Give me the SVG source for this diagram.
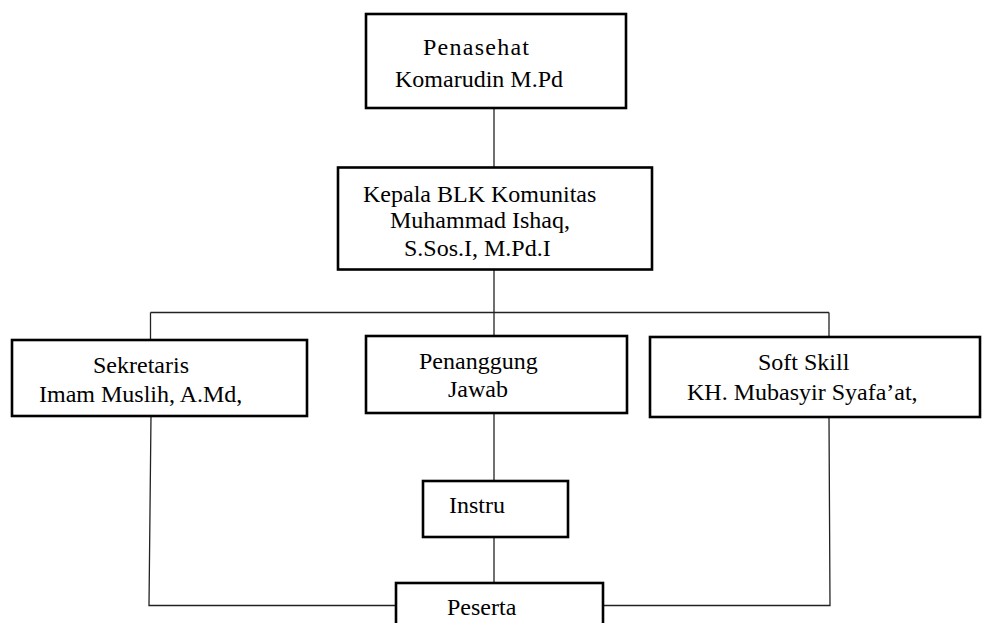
<svg xmlns="http://www.w3.org/2000/svg" width="982" height="623" viewBox="0 0 982 623">
<style>
.box{fill:#fff;stroke:#000;stroke-width:2.6}
.t{font-family:"Liberation Serif","Times New Roman",serif;font-size:24px;fill:#000}
.c{fill:none;stroke:#222;stroke-width:1.3}
</style>
<rect width="982" height="623" fill="#fff"/>
<g id="connectors">
<line class="c" x1="494" y1="108" x2="494" y2="167.5"/>
<line class="c" x1="494" y1="269.5" x2="494" y2="312.5"/>
<line class="c" x1="150.5" y1="312.5" x2="829" y2="312.5"/>
<line class="c" x1="150.5" y1="312.5" x2="150.5" y2="340"/>
<line class="c" x1="494" y1="312.5" x2="494" y2="336"/>
<line class="c" x1="829" y1="312.5" x2="829" y2="337"/>
<line class="c" x1="494" y1="413" x2="494" y2="481"/>
<line class="c" x1="494" y1="537" x2="494" y2="583"/>
<polyline class="c" points="151,416 149,605.5 396,605.5"/>
<polyline class="c" points="829,417 830,605.5 603,605.5"/>
</g>
<g id="penasehat">
<rect class="box" x="366" y="14" width="260" height="94"/>
<text class="t" x="423" y="55" font-size="25" textLength="106" lengthAdjust="spacing">Penasehat</text>
<text class="t" x="395" y="87">Komarudin M.Pd</text>
</g>
<g id="kepala">
<rect class="box" x="338" y="167.5" width="314" height="102"/>
<text class="t" x="363" y="202">Kepala BLK Komunitas</text>
<text class="t" x="390" y="228">Muhammad Ishaq,</text>
<text class="t" x="404" y="256">S.Sos.I, M.Pd.I</text>
</g>
<g id="sekretaris">
<rect class="box" x="12" y="340" width="295" height="76"/>
<text class="t" x="93" y="373">Sekretaris</text>
<text class="t" x="39" y="402">Imam Muslih, A.Md,</text>
</g>
<g id="penanggung-jawab">
<rect class="box" x="366" y="336" width="261" height="77"/>
<text class="t" x="419" y="369">Penanggung</text>
<text class="t" x="448" y="397">Jawab</text>
</g>
<g id="soft-skill">
<rect class="box" x="650" y="337" width="330" height="80"/>
<text class="t" x="758" y="370">Soft Skill</text>
<text class="t" x="687" y="400">KH. Mubasyir Syafa’at,</text>
</g>
<g id="instru">
<rect class="box" x="423" y="481" width="145" height="56"/>
<text class="t" x="449" y="513">Instru</text>
</g>
<g id="peserta">
<rect class="box" x="396" y="583" width="207" height="50"/>
<text class="t" x="447" y="615">Peserta</text>
</g>
</svg>
